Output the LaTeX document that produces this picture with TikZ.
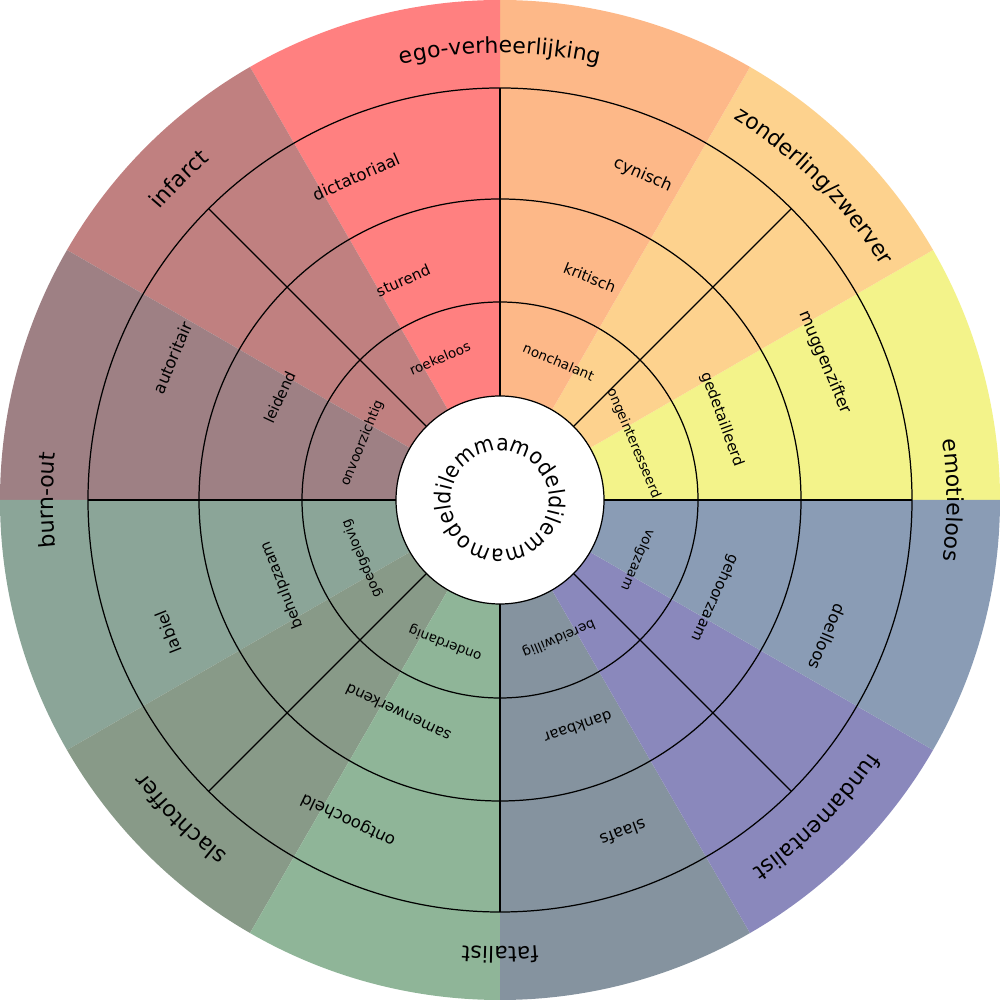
\documentclass[tikz,border=0pt]{standalone}
\usepackage{xcolor}
\usepackage{fontspec}
\setmainfont{DejaVu Sans}
\newfontfamily\hubfamily[FakeStretch=0.92]{DejaVu Sans}
\usepackage{tikz}
\usetikzlibrary{decorations.text}

\definecolor{wheelyellow}{RGB}{243,243,138}
\definecolor{wheelapricot}{RGB}{253,210,142}
\definecolor{wheelorange}{RGB}{253,184,136}
\definecolor{wheelred}{RGB}{255,128,128}
\definecolor{wheelrose}{RGB}{192,128,128}
\definecolor{wheelmauve}{RGB}{158,128,132}
\definecolor{wheelsage}{RGB}{139,165,152}
\definecolor{wheelolive}{RGB}{136,154,136}
\definecolor{wheelgreen}{RGB}{143,181,152}
\definecolor{wheelslate}{RGB}{133,147,159}
\definecolor{wheelviolet}{RGB}{138,136,188}
\definecolor{wheelsteel}{RGB}{138,156,181}

\newcommand{\rimfont}{\fontsize{6.26}{7.5}\selectfont}
\newcommand{\hubfont}{\hubfamily\fontsize{6.3}{7.5}\selectfont}

\tikzset{
  lblone/.style={font=\fontsize{3.84}{4.6}\selectfont, inner sep=0pt},
  lbltwo/.style={font=\fontsize{4.27}{5.1}\selectfont, inner sep=0pt},
  lblthree/.style={font=\fontsize{4.69}{5.6}\selectfont, inner sep=0pt},
  rimtext/.style={decorate, decoration={text along path, text align=center, text={|\rimfont|#1}}}
}

\begin{document}
\begin{tikzpicture}[line width=0.35pt]
\useasboundingbox (-5,-5) rectangle (5,5);

\fill[wheelyellow] (0,0) -- (0:5) arc[start angle=0, end angle=30, radius=5] -- cycle;
\fill[wheelapricot] (0,0) -- (30:5) arc[start angle=30, end angle=60, radius=5] -- cycle;
\fill[wheelorange] (0,0) -- (60:5) arc[start angle=60, end angle=90, radius=5] -- cycle;
\fill[wheelred] (0,0) -- (90:5) arc[start angle=90, end angle=120, radius=5] -- cycle;
\fill[wheelrose] (0,0) -- (120:5) arc[start angle=120, end angle=150, radius=5] -- cycle;
\fill[wheelmauve] (0,0) -- (150:5) arc[start angle=150, end angle=180, radius=5] -- cycle;
\fill[wheelsage] (0,0) -- (180:5) arc[start angle=180, end angle=210, radius=5] -- cycle;
\fill[wheelolive] (0,0) -- (210:5) arc[start angle=210, end angle=240, radius=5] -- cycle;
\fill[wheelgreen] (0,0) -- (240:5) arc[start angle=240, end angle=270, radius=5] -- cycle;
\fill[wheelslate] (0,0) -- (270:5) arc[start angle=270, end angle=300, radius=5] -- cycle;
\fill[wheelviolet] (0,0) -- (300:5) arc[start angle=300, end angle=330, radius=5] -- cycle;
\fill[wheelsteel] (0,0) -- (330:5) arc[start angle=330, end angle=360, radius=5] -- cycle;

\draw[fill=white] (0,0) circle (1.04);
\draw (0,0) circle (1.98);
\draw (0,0) circle (3.01);
\draw (0,0) circle (4.12);

\draw (0:1.04) -- (0:4.12);
\draw (45:1.04) -- (45:4.12);
\draw (90:1.04) -- (90:4.12);
\draw (135:1.04) -- (135:4.12);
\draw (180:1.04) -- (180:4.12);
\draw (225:1.04) -- (225:4.12);
\draw (270:1.04) -- (270:4.12);
\draw (315:1.04) -- (315:4.12);

\path[decorate, decoration={text along path, text align=fit to path, text={|\hubfont|dilemmamodeldilemmamodel}}] (185:0.49) arc[start angle=185, end angle=-175, radius=0.49];

\node[lblone, rotate=-23] (nonchalant) at (67:1.50) {nonchalant};
\node[lblone, rotate=-67] (ongeinteresseerd) at (23:1.45) {ongeinteresseerd};
\node[lblone, rotate=-113.6] (volgzaam) at (-23.6:1.50) {volgzaam};
\node[lblone, rotate=-157] (bereidwillig) at (-67:1.50) {bereidwillig};
\node[lblone, rotate=-201] (onderdanig) at (-111:1.53) {onderdanig};
\node[lblone, rotate=-247] (goedgelovig) at (-157:1.50) {goedgelovig};
\node[lblone, rotate=67.6] (onvoorzichtig) at (157.6:1.49) {onvoorzichtig};
\node[lblone, rotate=23] (roekeloos) at (113:1.54) {roekeloos};

\node[lbltwo, rotate=-22] (kritisch) at (68:2.40) {kritisch};
\node[lbltwo, rotate=-70] (gedetailleerd) at (20:2.36) {gedetailleerd};
\node[lbltwo, rotate=-114.5] (gehoorzaam) at (-24.5:2.36) {gehoorzaam};
\node[lbltwo, rotate=-161] (dankbaar) at (-71:2.40) {dankbaar};
\node[lbltwo, rotate=-205.6] (samenwerkend) at (-115.6:2.36) {samenwerkend};
\node[lbltwo, rotate=-248.7] (behulpzaam) at (-158.7:2.34) {behulpzaam};
\node[lbltwo, rotate=65] (leidend) at (155:2.43) {leidend};
\node[lbltwo, rotate=23.8] (sturend) at (113.8:2.40) {sturend};

\node[lblthree, rotate=-23.7] (cynisch) at (66.3:3.55) {cynisch};
\node[lblthree, rotate=-67.1] (muggenzifter) at (22.9:3.53) {muggenzifter};
\node[lblthree, rotate=-112.7] (doelloos) at (-22.7:3.55) {doelloos};
\node[lblthree, rotate=-159.7] (slaafs) at (-69.7:3.55) {slaafs};
\node[lblthree, rotate=-205.4] (ontgoocheld) at (-115.4:3.54) {ontgoocheld};
\node[lblthree, rotate=-248.3] (labiel) at (-158.3:3.57) {labiel};
\node[lblthree, rotate=66.5] (autoritair) at (156.5:3.57) {autoritair};
\node[lblthree, rotate=24] (dictatoriaal) at (114:3.54) {dictatoriaal};

\path[rimtext={ego-verheerlijking}] (130:4.47) arc[start angle=130, end angle=50, radius=4.47];
\path[rimtext={zonderling/zwerver}] (85:4.47) arc[start angle=85, end angle=5, radius=4.47];
\path[rimtext={emotieloos}] (40:4.47) arc[start angle=40, end angle=-40, radius=4.47];
\path[rimtext={fundamentalist}] (-5:4.47) arc[start angle=-5, end angle=-85, radius=4.47];
\path[rimtext={fatalist}] (-50:4.47) arc[start angle=-50, end angle=-130, radius=4.47];
\path[rimtext={slachtoffer}] (-95:4.47) arc[start angle=-95, end angle=-175, radius=4.47];
\path[rimtext={burn-out}] (220:4.47) arc[start angle=220, end angle=140, radius=4.47];
\path[rimtext={infarct}] (175:4.47) arc[start angle=175, end angle=95, radius=4.47];
\end{tikzpicture}
\end{document}
